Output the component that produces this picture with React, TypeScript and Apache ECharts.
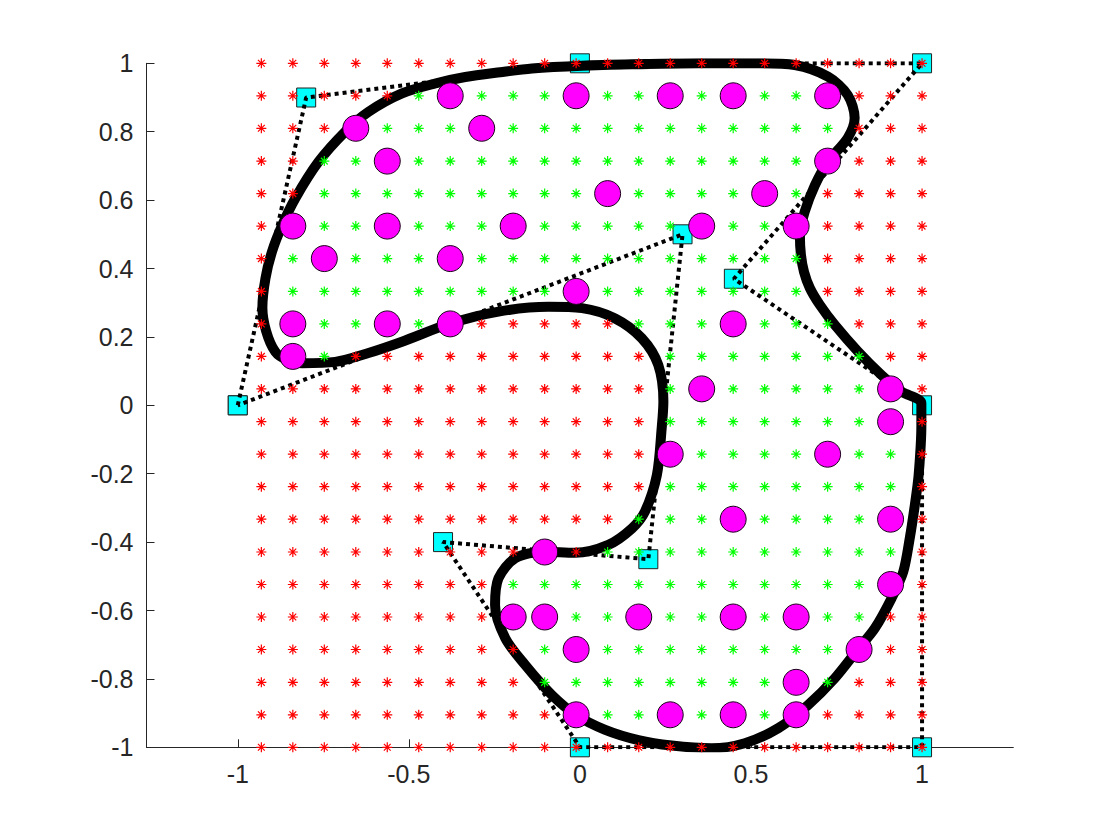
import React, { useEffect, useRef } from "react";
import * as echarts from "echarts";

// grid of sample points (columns in x, rows in y from top to bottom)
const starX = [-0.931, -0.839, -0.747, -0.655, -0.563, -0.471, -0.379, -0.287, -0.195, -0.103, -0.011, 0.081, 0.172, 0.264, 0.356, 0.448, 0.54, 0.632, 0.724, 0.816, 0.908, 1.0];
const starY = [1, 0.905, 0.81, 0.714, 0.619, 0.524, 0.429, 0.333, 0.238, 0.143, 0.048, -0.048, -0.143, -0.238, -0.333, -0.429, -0.524, -0.619, -0.714, -0.81, -0.905, -1];
// r = outside (red), g = inside (green)
const starRows = [
  "rrrrrrrrrrrrrrrrrrrrrr",
  "rrrrrggggggggggggggrrr",
  "rrrggggggggggggggggrrr",
  "rrgggggggggggggggggrrr",
  "rrggggggggggggggggrrrr",
  "rgggggggggggggggggrrrr",
  "rgggggggggggggggggrrrr",
  "rgggggggggggggggggrrrr",
  "rggggggrrrrrgggggggrrr",
  "rggrrrrrrrrrrgggggggrr",
  "rrrrrrrrrrrrrggggggggr",
  "rrrrrrrrrrrrrggggggggr",
  "rrrrrrrrrrrrrggggggggr",
  "rrrrrrrrrrrrrggggggggr",
  "rrrrrrrrrrrrgggggggggr",
  "rrrrrrrrrrrggggggggggr",
  "rrrrrrrrgggggggggggggr",
  "rrrrrrrrggggggggggggrr",
  "rrrrrrrrrgggggggggggrr",
  "rrrrrrrrrggggggggggrrr",
  "rrrrrrrrrrggggggggrrrr",
  "rrrrrrrrrrrrrrrrrrrrrr",
];
// magenta points: [column index, row index]
const circleCells = [
  [6, 1], [10, 1], [13, 1], [15, 1], [18, 1],
  [3, 2], [7, 2],
  [4, 3], [18, 3],
  [11, 4], [16, 4],
  [1, 5], [4, 5], [8, 5], [14, 5], [17, 5],
  [2, 6], [6, 6],
  [10, 7],
  [1, 8], [4, 8], [6, 8], [15, 8],
  [1, 9],
  [14, 10], [20, 10],
  [20, 11],
  [13, 12], [18, 12],
  [15, 14], [20, 14],
  [9, 15],
  [20, 16],
  [8, 17], [9, 17], [12, 17], [15, 17], [17, 17],
  [10, 18], [19, 18],
  [17, 19],
  [10, 20], [13, 20], [15, 20], [17, 20],
];
// control polygon
const ctrlX = [-1, -0.8, 0, 1, 0.45, 1, 1, 0, -0.4, 0.2, 0.3, -1];
const ctrlY = [0, 0.9, 1, 1, 0.37, 0, -1, -1, -0.4, -0.45, 0.5, 0];
// closed boundary curve
const curveX = [0.006, 0.152, 0.345, 0.531, 0.628, 0.725, 0.783, 0.803, 0.783, 0.725, 0.687, 0.657, 0.643, 0.646, 0.655, 0.672, 0.701, 0.745, 0.813, 0.881, 0.94, 0.998, 0.998, 0.99, 0.979, 0.964, 0.945, 0.911, 0.862, 0.813, 0.745, 0.667, 0.58, 0.482, 0.385, 0.268, 0.171, 0.074, -0.011, -0.082, -0.16, -0.218, -0.248, -0.238, -0.189, -0.105, -0.014, 0.083, 0.152, 0.19, 0.225, 0.239, 0.244, 0.229, 0.181, 0.103, 0.006, -0.092, -0.238, -0.379, -0.52, -0.618, -0.715, -0.812, -0.89, -0.928, -0.919, -0.9, -0.87, -0.832, -0.764, -0.686, -0.618, -0.52, -0.423, -0.335, -0.233, -0.14];
const curveY = [0.993, 0.997, 1.0, 1.0, 0.995, 0.961, 0.907, 0.84, 0.782, 0.712, 0.644, 0.566, 0.498, 0.44, 0.39, 0.343, 0.294, 0.235, 0.157, 0.089, 0.04, 0.006, -0.058, -0.204, -0.291, -0.389, -0.487, -0.564, -0.652, -0.713, -0.798, -0.876, -0.944, -0.988, -1.003, -0.995, -0.979, -0.949, -0.906, -0.847, -0.759, -0.681, -0.584, -0.506, -0.447, -0.428, -0.431, -0.408, -0.36, -0.311, -0.204, -0.067, 0.011, 0.118, 0.196, 0.254, 0.284, 0.288, 0.274, 0.239, 0.186, 0.153, 0.127, 0.123, 0.156, 0.285, 0.371, 0.449, 0.527, 0.605, 0.712, 0.8, 0.858, 0.912, 0.941, 0.96, 0.974, 0.985];
const xTicks = [-1, -0.5, 0, 0.5, 1];
const yTicks = [-1, -0.8, -0.6, -0.4, -0.2, 0, 0.2, 0.4, 0.6, 0.8, 1];

const ASTERISK = "path://M5,0L5,10M0,5L10,5M1.6,1.6L8.4,8.4M1.6,8.4L8.4,1.6";
const FONT = "'Liberation Sans', Arial, Helvetica, sans-serif";
const AXIS_COLOR = "#262626";

export default function App() {
  const ref = useRef<HTMLDivElement>(null);
  useEffect(() => {
    document.body.style.margin = "0";
    if (!ref.current) return;
    const chart = echarts.init(ref.current, undefined, { renderer: "svg" });

    const red: number[][] = [];
    const green: number[][] = [];
    starRows.forEach((row, r) => {
      for (let c = 0; c < row.length; c++) {
        (row[c] === "g" ? green : red).push([starX[c], starY[r]]);
      }
    });
    const circles = circleCells.map(([c, r]) => [starX[c], starY[r]]);
    const ctrl = ctrlX.map((x, i) => [x, ctrlY[i]]);
    const curveOpen = curveX.map((x, i) => [x, curveY[i]]);
    // close the loop, overlapping a few points so the join is smooth
    const curve = curveOpen.concat(curveOpen.slice(0, 3));
    const fmt = (v: number) => String(Math.round(v * 10) / 10);

    chart.setOption({
      animation: false,
      backgroundColor: "#ffffff",
      grid: { left: 146.5, right: 106.7, top: 63.3, bottom: 92.7, containLabel: false, outerBoundsMode: "none" },
      xAxis: {
        type: "value",
        min: -1.2667,
        max: 1.2667,
        splitLine: { show: false },
        axisLine: { onZero: false, lineStyle: { color: AXIS_COLOR, width: 1 } },
        axisTick: { inside: true, length: 8, customValues: xTicks, lineStyle: { color: AXIS_COLOR, width: 1 } },
        axisLabel: { customValues: xTicks, formatter: fmt, margin: 14, fontSize: 25, color: AXIS_COLOR, fontFamily: FONT },
      },
      yAxis: {
        type: "value",
        min: -1,
        max: 1,
        splitLine: { show: false },
        axisLine: { onZero: false, lineStyle: { color: AXIS_COLOR, width: 1 } },
        axisTick: { inside: true, length: 8, customValues: yTicks, lineStyle: { color: AXIS_COLOR, width: 1 } },
        axisLabel: { customValues: yTicks, formatter: fmt, margin: 13, fontSize: 25, color: AXIS_COLOR, fontFamily: FONT },
      },
      series: [
        {
          type: "scatter",
          data: ctrl,
          symbol: "rect",
          symbolSize: 19,
          itemStyle: { color: "#00ffff", borderColor: "#222222", borderWidth: 1, opacity: 1 },
          z: 2,
          silent: true,
        },
        {
          type: "line",
          data: ctrl,
          showSymbol: false,
          symbol: "none",
          lineStyle: { color: "#000000", width: 4, type: [4, 4] },
          z: 3,
          silent: true,
        },
        {
          type: "line",
          data: curve,
          showSymbol: false,
          symbol: "none",
          smooth: 0.3,
          lineStyle: { color: "#000000", width: 10, cap: "round", join: "round" },
          z: 4,
          silent: true,
        },
        {
          type: "scatter",
          data: red,
          symbol: ASTERISK,
          symbolSize: 10,
          itemStyle: { color: "#ff0000", borderColor: "#ff0000", borderWidth: 1.2, opacity: 1 },
          z: 5,
          silent: true,
        },
        {
          type: "scatter",
          data: green,
          symbol: ASTERISK,
          symbolSize: 10,
          itemStyle: { color: "#00ff00", borderColor: "#00ff00", borderWidth: 1.2, opacity: 1 },
          z: 5,
          silent: true,
        },
        {
          type: "scatter",
          data: circles,
          symbol: "circle",
          symbolSize: 26,
          itemStyle: { color: "#ff00ff", borderColor: "#1a001a", borderWidth: 1, opacity: 1 },
          z: 6,
          silent: true,
        },
      ],
    });
    return () => chart.dispose();
  }, []);
  return <div ref={ref} style={{ width: 1120, height: 840 }} />;
}
